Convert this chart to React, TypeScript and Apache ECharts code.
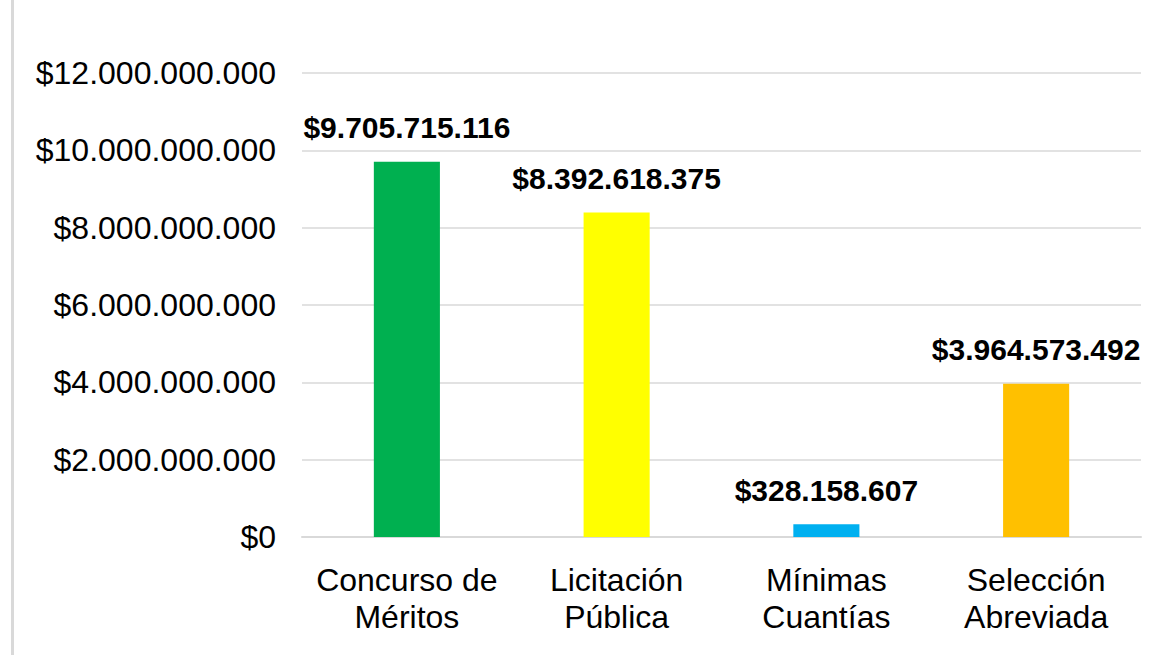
import React, { useEffect, useRef } from "react";
import * as echarts from "echarts";

const categories = ["Concurso de\nMéritos", "Licitación\nPública", "Mínimas\nCuantías", "Selección\nAbreviada"];
const values = [9705715116, 8392618375, 328158607, 3964573492];
const colors = ["#00b050", "#ffff00", "#00b0f0", "#ffc000"];
const yTicks = { min: 0, max: 12000000000, interval: 2000000000 };

function fmt(v: number): string {
  return "$" + Math.round(v).toString().replace(/\B(?=(\d{3})+(?!\d))/g, ".");
}

export default function App() {
  const ref = useRef<HTMLDivElement>(null);
  useEffect(() => {
    if (!ref.current) return;
    const chart = echarts.init(ref.current, undefined, { renderer: "svg" });
    const font = "'Liberation Sans', Arial, sans-serif";
    chart.setOption({
      animation: false,
      backgroundColor: "#ffffff",
      textStyle: { fontFamily: font },
      grid: { left: 302, right: 27, top: 73, bottom: 118, containLabel: false },
      graphic: [
        {
          type: "rect",
          shape: { x: 11, y: 0, width: 3, height: 655 },
          style: { fill: "#d9d9d9" },
          silent: true,
        },
      ],
      xAxis: {
        type: "category",
        data: categories,
        axisLine: { show: true, lineStyle: { color: "#d9d9d9", width: 2 } },
        axisTick: { show: false },
        axisLabel: {
          color: "#000",
          fontSize: 32,
          lineHeight: 37,
          margin: 24,
          fontFamily: font,
          interval: 0,
        },
      },
      yAxis: {
        type: "value",
        min: yTicks.min,
        max: yTicks.max,
        interval: yTicks.interval,
        axisLine: { show: false },
        axisTick: { show: false },
        splitLine: { lineStyle: { color: "#d9d9d9", width: 1.5 } },
        axisLabel: {
          color: "#000",
          fontSize: 32,
          margin: 26,
          fontFamily: font,
          formatter: (v: number) => fmt(v),
        },
      },
      series: [
        {
          type: "bar",
          barWidth: "31.5%",
          data: values.map((v, i) => ({ value: v, itemStyle: { color: colors[i] } })),
          label: {
            show: true,
            position: "top",
            distance: 19,
            color: "#000",
            fontSize: 30,
            fontWeight: "bold",
            fontFamily: font,
            formatter: (p: any) => fmt(p.value),
          },
        },
      ],
    });
    return () => chart.dispose();
  }, []);
  return (
    <div
      ref={ref}
      style={{ position: "fixed", left: 0, top: 0, width: 1168, height: 655 }}
    />
  );
}
